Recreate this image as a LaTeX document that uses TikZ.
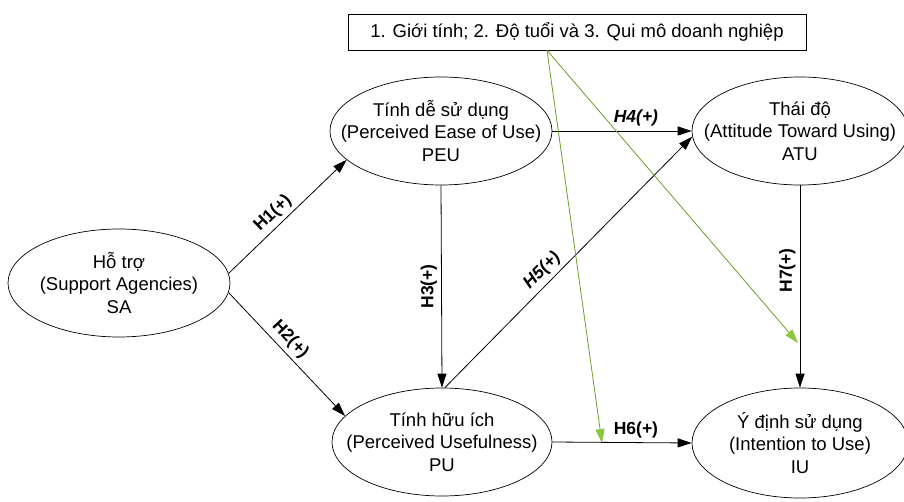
\documentclass[tikz,border=0pt]{standalone}
\usepackage{fontspec}
\setmainfont{Liberation Sans}
\usetikzlibrary{shapes.geometric,arrows.meta}
\definecolor{grn}{RGB}{140,198,63}
\definecolor{grnline}{RGB}{110,155,45}
\begin{document}
\begin{tikzpicture}[x=1pt,y=-1pt,
 ell/.style={draw, ellipse, minimum width=218pt, minimum height=108pt, inner sep=0pt, line width=0.7pt},
 txt/.style={align=center, font=\fontsize{18.5}{22.5}\selectfont},
 arr/.style={draw, line width=0.8pt, -{Triangle[length=14pt,width=9pt]}},
 garr/.style={draw=grnline, line width=0.8pt, -{Triangle[length=14pt,width=9pt,color=grn,fill=grn]}},
 hl/.style={font=\fontsize{17.5}{19}\selectfont\bfseries, inner sep=4pt},
 hli/.style={font=\fontsize{17.5}{19}\selectfont\bfseries\itshape, inner sep=4pt},
]
\useasboundingbox (0,0) rectangle (904,502);

\node[draw, line width=0.7pt, minimum width=458pt, minimum height=36pt, inner sep=0pt, txt] (cov) at (577,32) {1. Giới tính; 2. Độ tuổi và 3. Qui mô doanh nghiệp};

\node[ell, minimum width=222pt] (SA) at (119,283) {};
\node[txt] at (SA) {Hỗ trợ\\(Support Agencies)\\SA};

\node[ell, minimum width=222pt] (PEU) at (441,131) {};
\node[txt] at (PEU) {Tính dễ sử dụng\\(Perceived Ease of Use)\\PEU};

\node[ell, minimum width=220pt] (PU) at (442,442) {};
\node[txt] at (PU) {Tính hữu ích\\(Perceived Usefulness)\\PU};

\node[ell, minimum width=216pt] (ATU) at (800,131) {};
\node[txt] at (ATU) {Thái độ\\(Attitude Toward Using)\\ATU};

\node[ell, minimum width=216pt, minimum height=110pt] (IU) at (800,443) {};
\node[txt] at (IU) {Ý định sử dụng\\(Intention to Use)\\IU};

\draw[arr] (SA.5) -- node[hl, sloped, above, pos=0.45] {H1(+)} (PEU.197);
\draw[arr] (SA.-5) -- node[hl, sloped, above, pos=0.45] {H2(+)} (PU.165);
\draw[arr] (PEU.south) -- node[hl, rotate=90, above] {H3(+)} (PU.north);
\draw[arr] (PEU.east) -- node[hli, above, pos=0.6] {H4(+)} (ATU.west);
\draw[arr] (PU.87) -- node[hli, sloped, above, pos=0.43] {H5(+)} (ATU.183);
\draw[arr] (PU.east) -- node[hl, above, pos=0.6] {H6(+)} (IU.west);
\draw[arr] (ATU.south) -- node[hl, rotate=90, above, pos=0.42] {H7(+)} (IU.north);

\coordinate (g0) at ([xshift=-30pt]cov.south);
\coordinate (g1) at (602,443);
\coordinate (g2) at (798,343);
\draw[garr] (g0) -- (g1);
\draw[garr] (g0) -- (g2);
\end{tikzpicture}
\end{document}
